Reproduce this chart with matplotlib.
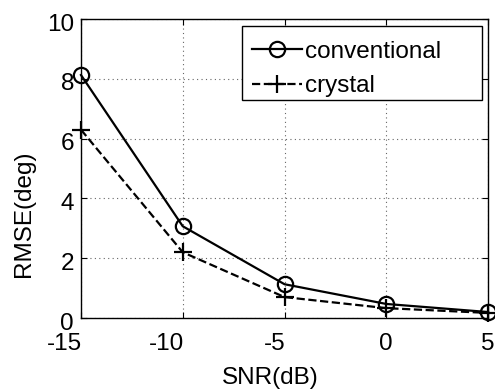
import matplotlib
matplotlib.use('Agg')
import matplotlib.pyplot as plt
from matplotlib.patches import Rectangle
from matplotlib.transforms import ScaledTranslation

plt.rcParams['font.family'] = ['Liberation Sans', 'DejaVu Sans']

# data
snr = [-15, -10, -5, 0, 5]
rmse_conventional = [8.13, 3.07, 1.13, 0.47, 0.2]
rmse_crystal = [6.3, 2.2, 0.7, 0.33, 0.17]
x_ticks = [-15, -10, -5, 0, 5]
y_ticks = [0, 2, 4, 6, 8, 10]

fig = plt.figure(figsize=(4.95, 3.9), dpi=100)
ax = fig.add_axes([0.1636, 0.1846, 0.8224, 0.7664])

ax.plot(snr, rmse_conventional, 'k-o', lw=1.6, markersize=11,
        markerfacecolor='none', markeredgewidth=1.6, label='conventional', clip_on=False)
ax.plot(snr, rmse_crystal, 'k--+', lw=1.6, markersize=13,
        markeredgewidth=1.6, label='crystal', clip_on=False)

ax.set_xlim(-15, 5)
ax.set_ylim(0, 10)
ax.set_xticks(x_ticks)
ax.set_xticklabels([str(t) for t in x_ticks])
ax.set_yticks(y_ticks)
ax.grid(True, linestyle=(0, (1, 3)), color='0.4', linewidth=0.8)

ax.tick_params(direction='in', top=True, right=True, length=4, width=0.8,
               labelsize=17.5)
ax.tick_params(axis='x', pad=11)
ax.tick_params(axis='y', pad=5)
for lab, t in zip(ax.get_xticklabels(), x_ticks):
    if t < 0:
        lab.set_horizontalalignment('right')
        lab.set_transform(lab.get_transform() + ScaledTranslation(1 / 100, 0, fig.dpi_scale_trans))
for lab in ax.get_yticklabels():
    lab.set_transform(lab.get_transform() + ScaledTranslation(0, -3 / 100, fig.dpi_scale_trans))

for s in ax.spines.values():
    s.set_linewidth(1.0)

ax.set_xlabel('SNR(dB)', fontsize=17.5, va='center')
ax.xaxis.set_label_coords(0.464, -0.20)
ax.set_ylabel('RMSE(deg)', fontsize=17.5, va='center')
ax.yaxis.set_label_coords(-0.14, 0.35)

# MATLAB style legend: wide box with extra space on the right
ax.add_patch(Rectangle((0.3956, 0.729), 0.589, 0.2476, transform=ax.transAxes,
                       facecolor='white', edgecolor='k', lw=1.0, zorder=4))
leg = ax.legend(loc='upper left', bbox_to_anchor=(0.420, 0.928), fontsize=17.5,
                frameon=False, handlelength=2.05, handletextpad=0.15,
                borderpad=0, labelspacing=0.52, borderaxespad=0)
leg.set_zorder(5)

fig.savefig('out.png', dpi=100)
